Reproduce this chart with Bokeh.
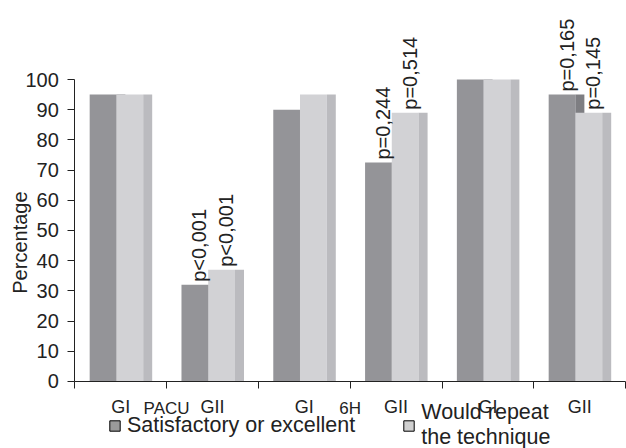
import numpy as np
from bokeh.plotting import figure
from bokeh.models import Range1d, FixedTicker, Label, Legend, LegendItem, ColumnDataSource
from bokeh.core.properties import value
from bokeh.embed import file_html
from bokeh.resources import INLINE

# ---- data ----
categories = ["GI", "GII", "GI", "GII", "GI", "GII"]
group_labels = ["PACU", "6H"]
group_positions = [1, 3]  # boundaries between categories
satisfactory = [95, 32, 90, 72.5, 100, 95]
would_repeat = [95, 37, 95, 89, 100, 89]
p_satisfactory = ["", "p<0,001", "", "p=0,244", "", "p=0,165"]
p_repeat = ["", "p<0,001", "", "p=0,514", "", "p=0,145"]
y_ticks = [0, 10, 20, 30, 40, 50, 60, 70, 80, 90, 100]
legend_labels = ["Satisfactory or excellent", "Would repeat\nthe technique"]

FONT = "Liberation Sans"
TXT = "#222222"
DARK, DARK_SIDE = "#949498", "#7e7e82"
LIGHT, LIGHT_SIDE = "#d2d2d5", "#bbbbbf"

idx = np.arange(len(categories))

p = figure(width=626, height=448, output_backend="svg", toolbar_location=None,
           x_range=Range1d(-0.8094, 6.0098), y_range=Range1d(-22.19, 126.16),
           min_border_left=0, min_border_right=0, min_border_top=0, min_border_bottom=0)
p.outline_line_color = None
p.xgrid.visible = False
p.ygrid.visible = False
p.background_fill_color = "white"

# bars: face + 3D side strip
d = ColumnDataSource(dict(fl=idx + 0.162, fr=idx + 0.453, sr=idx + 0.551, top=satisfactory))
l = ColumnDataSource(dict(fl=idx + 0.453, fr=idx + 0.745, sr=idx + 0.843, top=would_repeat))

# legend key renderers: zero-height boxes lying on the x axis line (only their key shows)
leg1 = p.quad(left="fl", right="fr", top=0, bottom=0, source=d,
              fill_color="#9a9a9a", line_color="black")
leg2 = p.quad(left="fl", right="fr", top=0, bottom=0, source=l,
              fill_color="#d0d0d0", line_color="black")

p.quad(left="fl", right="fr", top="top", bottom=0, source=d, fill_color=DARK, line_color=None)
p.quad(left="fr", right="sr", top="top", bottom=0, source=d, fill_color=DARK_SIDE, line_color=None)
p.quad(left="fl", right="fr", top="top", bottom=0, source=l, fill_color=LIGHT, line_color=None)
p.quad(left="fr", right="sr", top="top", bottom=0, source=l, fill_color=LIGHT_SIDE, line_color=None)

# p-value labels
for vals, texts, off in [(satisfactory, p_satisfactory, 0.357), (would_repeat, p_repeat, 0.648)]:
    xs = [i + off for i, t in enumerate(texts) if t]
    ys = [vals[i] for i, t in enumerate(texts) if t]
    ts = [t for t in texts if t]
    p.text(x=xs, y=ys, text=ts, angle=np.pi / 2, text_align="left", text_baseline="middle",
           y_offset=-3, text_font=value(FONT), text_font_size="20px", text_color=TXT)

# axes (fixed inside the frame)
yax = p.yaxis[0]
yax.fixed_location = 0
yax.ticker = FixedTicker(ticks=y_ticks)
yax.bounds = (0, 100)
yax.major_tick_out = 7
yax.major_tick_in = 0
yax.minor_tick_out = 0
yax.minor_tick_in = 0
yax.major_label_standoff = 9
yax.major_label_text_font = FONT
yax.major_label_text_font_size = "20px"
yax.major_label_text_color = TXT
yax.axis_line_color = TXT
yax.major_tick_line_color = TXT

xax = p.xaxis[0]
xax.fixed_location = 0
centers = [float(c) for c in idx + 0.5]
xax.ticker = FixedTicker(ticks=centers, minor_ticks=list(range(7)))
xax.bounds = (0, 6)
xax.major_label_overrides = {c: categories[i] for i, c in enumerate(centers)}
xax.major_tick_out = 0
xax.major_tick_in = 0
xax.minor_tick_out = 7
xax.minor_tick_in = 0
xax.major_label_standoff = 9
xax.major_label_text_font = FONT
xax.major_label_text_font_size = "18px"
xax.major_label_text_color = TXT
xax.axis_line_color = TXT
xax.minor_tick_line_color = TXT

for g, gx in zip(group_labels, group_positions):
    p.add_layout(Label(x=gx, y=-8.8, text=g, text_align="center", text_baseline="alphabetic",
                       text_font=FONT, text_font_size="17px", text_color=TXT))

p.add_layout(Label(x=-0.594, y=46, text="Percentage", angle=np.pi / 2, text_align="center",
                   text_baseline="alphabetic", text_font=FONT, text_font_size="20px",
                   text_color=TXT))

legend = Legend(items=[LegendItem(label=legend_labels[0], renderers=[leg1]),
                       LegendItem(label=legend_labels[1], renderers=[leg2])],
                orientation="horizontal", location=(108, -2), glyph_width=13, glyph_height=13,
                label_standoff=6, spacing=47, padding=0, margin=0, border_line_color=None,
                background_fill_alpha=0, label_text_font=FONT, label_text_font_size="21.5px",
                label_text_line_height=0.75, label_text_color=TXT)
p.add_layout(legend, "center")

open("out.html", "w").write(file_html(p, INLINE))
